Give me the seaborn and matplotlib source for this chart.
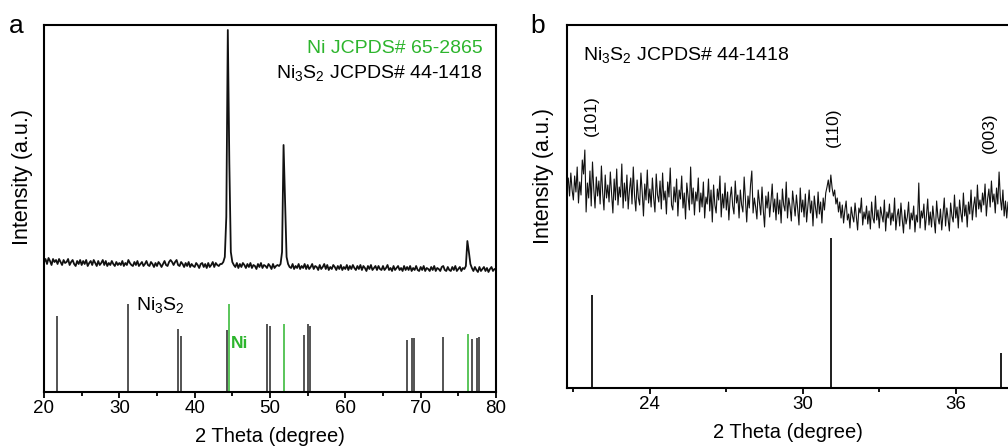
import numpy as np
import pandas as pd
import matplotlib
matplotlib.use("Agg")
import matplotlib.pyplot as plt
from matplotlib.ticker import MultipleLocator
import seaborn as sns

# ---------------- data ----------------
# Panel a: measured XRD scan, 20-80 deg, step 0.2 deg (intensity, a.u.)
scan_a_start, scan_a_stop = 20.0, 80.0
scan_a_int = [
    130, 133, 128, 134, 131, 127, 133, 130, 132, 128, 133, 130, 127, 132, 129, 130, 133, 127, 130, 132, 128, 126, 131, 128, 132,
    127, 131, 128, 132, 126, 129, 131, 127, 132, 129, 126, 131, 127, 129, 132, 127, 131, 126, 129, 127, 131, 128, 126, 130, 127,
    129, 127, 131, 126, 129, 127, 132, 129, 127, 126, 130, 127, 131, 126, 128, 130, 126, 128, 131, 127, 126, 130, 128, 125, 129,
    126, 130, 128, 125, 128, 131, 127, 126, 130, 132, 130, 127, 130, 132, 127, 126, 130, 128, 125, 129, 126, 130, 125, 128, 126,
    125, 129, 127, 124, 128, 129, 125, 128, 124, 129, 125, 127, 130, 125, 129, 127, 126, 128, 128, 130, 135, 175, 362, 230, 140,
    130, 127, 125, 129, 124, 128, 125, 129, 127, 124, 128, 125, 129, 124, 127, 126, 123, 128, 125, 129, 124, 127, 126, 124, 128,
    126, 123, 128, 124, 126, 127, 126, 128, 140, 247, 190, 135, 128, 125, 124, 128, 123, 126, 124, 128, 123, 126, 124, 128, 123,
    127, 123, 125, 128, 123, 126, 125, 122, 127, 123, 125, 128, 123, 127, 122, 125, 123, 127, 125, 122, 126, 123, 127, 122, 125,
    123, 127, 122, 126, 123, 127, 124, 122, 126, 123, 127, 122, 126, 124, 121, 126, 123, 127, 122, 124, 126, 122, 126, 123, 122,
    126, 122, 124, 127, 122, 124, 121, 126, 122, 124, 126, 122, 124, 121, 126, 122, 125, 122, 126, 121, 124, 122, 126, 122, 121,
    125, 122, 126, 121, 124, 123, 121, 125, 122, 126, 121, 124, 123, 121, 125, 126, 122, 121, 125, 122, 121, 125, 122, 126, 121,
    123, 125, 121, 124, 123, 126, 151, 140, 128, 124, 121, 125, 122, 120, 125, 121, 123, 125, 121, 124, 120, 123, 125, 121, 123,
    123,
]

# Panel a: reference patterns (relative intensity, %)
ni3s2_pos_a = [21.77, 31.15, 37.75, 38.24, 44.30, 49.66, 50.06, 54.57, 55.10, 55.28,
               68.25, 68.91, 69.18, 72.99, 76.88, 77.46, 77.80]
ni3s2_int_a = [86, 100, 72, 64, 71, 77, 75, 65, 77, 75, 59.5, 61, 61, 62, 60, 61, 62]
ni_pos = [44.52, 51.83, 76.27]
ni_int = [100, 77, 66]

# Panel b: measured scan, 20.80-38.10 deg, step 0.05 deg (intensity, a.u.)
scan_b_start, scan_b_stop = 20.8, 38.1
scan_b_int = [
    210, 192, 215, 198,
    188, 212, 196, 221, 185, 206, 193, 228, 214, 238,
    176, 205, 190, 217, 182, 226, 199, 180, 211, 192,
    207, 184, 222, 195, 178, 213, 190, 203, 186, 216,
    194, 175, 209, 188, 219, 183, 201, 191, 224, 180,
    205, 187, 213, 179, 198, 210, 184, 221, 192, 177,
    208, 190, 183, 215, 196, 172, 204, 188, 218, 185,
    199, 181, 210, 190, 176, 214, 193, 186, 207, 179,
    215, 188, 197, 174, 206, 191, 220, 183, 178, 201,
    186, 209, 172, 198, 189, 212, 180, 195, 169, 205,
    192, 178, 221, 184, 200, 173, 196, 187, 210, 176,
    195, 181, 206, 170, 191, 184, 209, 177, 198, 166,
    203, 183, 175, 199, 188, 212, 171, 194, 180, 205,
    178, 196, 168, 190, 201, 182, 174, 207, 185, 193,
    170, 198, 183, 176, 211, 188, 166, 192, 180, 203,
    217, 175, 190, 181, 169, 198, 185, 173, 201, 178,
    161, 192, 180, 196, 171, 186, 204, 176, 189, 168,
    195, 174, 188, 165, 199, 183, 177, 206, 170, 190,
    181, 167, 197, 185, 172, 193, 179, 163, 200, 176,
    188, 171, 194, 166, 182, 198, 175, 187, 162, 192,
    180, 170, 196, 174, 186, 165, 190, 178, 195, 201,
    208, 196, 213, 200, 192, 198, 184, 190, 176, 186,
    170, 183, 165, 178, 187, 168, 174, 160, 181, 172,
    166, 185, 171, 158, 180, 175, 190, 163, 176, 169,
    182, 164, 177, 159, 186, 170, 165, 192, 168, 178,
    160, 181, 173, 166, 188, 157, 176, 170, 184, 163,
    175, 167, 190, 158, 172, 179, 162, 185, 169, 155,
    178, 164, 171, 186, 159, 175, 168, 182, 156, 173,
    166, 205, 160, 177, 170, 184, 158, 172, 189, 163,
    176, 161, 182, 168, 155, 187, 171, 164, 179, 158,
    174, 190, 162, 180, 169, 157, 185, 172, 166, 193,
    170, 181, 160, 188, 175, 166, 195, 172, 183, 161,
    186, 174, 198, 168, 182, 191, 171, 203, 179, 188,
    176, 195, 183, 204, 172, 189, 199, 181, 207, 186,
    194, 175, 200, 184, 216, 190, 178, 198, 172, 187,
    170, 186, 178,
]
ni3s2_pos_b = [21.75, 31.10, 37.79]
ni3s2_int_b = [93, 150, 35]
hkl_b = ["(101)", "(110)", "(003)"]

ticks_a = [20, 30, 40, 50, 60, 70, 80]
ticks_b = [24, 30, 36]

# ---------------- style ----------------
sns.set_theme(style="ticks")
plt.rcParams["font.family"] = ["Liberation Sans", "DejaVu Sans"]
plt.rcParams["mathtext.default"] = "regular"
plt.rcParams["text.color"] = "black"
plt.rcParams["axes.labelcolor"] = "black"
plt.rcParams["xtick.color"] = "black"

GREEN = "#2db52d"
GREY = "#454545"
LINE = "#111111"

df_a = pd.DataFrame({"two_theta": np.linspace(scan_a_start, scan_a_stop, len(scan_a_int)),
                     "intensity": scan_a_int})
df_b = pd.DataFrame({"two_theta": np.linspace(scan_b_start, scan_b_stop, len(scan_b_int)),
                     "intensity": scan_b_int})

fig = plt.figure(figsize=(10.08, 4.46), dpi=100)
W, H = 1008, 446
axA = fig.add_axes([44 / W, 1 - 392 / H, 452 / W, 367 / H])
axB = fig.add_axes([567 / W, 1 - 388 / H, 441 / W, 363 / H])

stick_scale_a = 0.88

# ---- panel a ----
sns.lineplot(data=df_a, x="two_theta", y="intensity", ax=axA, color=LINE,
             lw=1.3, estimator=None, sort=False)
axA.vlines(ni3s2_pos_a, 0, np.array(ni3s2_int_a) * stick_scale_a, color=GREY, lw=1.3)
axA.vlines(ni_pos, 0, np.array(ni_int) * stick_scale_a, color=GREEN, lw=1.1)
axA.set_xlim(20, 80)
axA.set_ylim(0, 367)
axA.set_xticks(ticks_a)
axA.xaxis.set_minor_locator(MultipleLocator(5))
axA.set_yticks([])
axA.set_xlabel("2 Theta (degree)", fontsize=14.5, labelpad=7)
axA.set_ylabel("")
axA.text(-0.0465, 0.587, "Intensity (a.u.)", transform=axA.transAxes, rotation=90,
         ha="center", va="center", fontsize=15.5)
axA.text(78.2, 339, "Ni JCPDS# 65-2865", color=GREEN, ha="right", va="baseline", fontsize=14)
axA.text(78.2, 314, r"Ni$_3$S$_2$ JCPDS# 44-1418", color="black", ha="right",
         va="baseline", fontsize=14)
axA.text(32.2, 82, r"Ni$_3$S$_2$", color="black", ha="left", va="baseline", fontsize=14)
axA.text(44.83, 49, "Ni", color=GREEN, ha="left", va="center", fontsize=12.5,
         fontweight="bold")

# ---- panel b ----
sns.lineplot(data=df_b, x="two_theta", y="intensity", ax=axB, color=LINE,
             lw=0.8, estimator=None, sort=False)
axB.vlines(ni3s2_pos_b, 0, ni3s2_int_b, color="#1e1e1e", lw=1.4)
axB.set_xlim(20.75, 38.05)
axB.set_ylim(0, 363)
axB.set_xticks(ticks_b)
axB.xaxis.set_minor_locator(MultipleLocator(3))
axB.set_yticks([])
axB.set_xlabel("2 Theta (degree)", fontsize=14.5, labelpad=7)
axB.set_ylabel("")
axB.text(-0.054, 0.583, "Intensity (a.u.)", transform=axB.transAxes, rotation=90,
         ha="center", va="center", fontsize=15.5)
axB.text(21.37, 328, r"Ni$_3$S$_2$ JCPDS# 44-1418", ha="left", va="baseline", fontsize=14)
for lab, xx, yy in zip(hkl_b, [21.69, 31.2, 37.33], [272, 260.5, 255.5]):
    axB.text(xx, yy, lab, rotation=90, ha="center", va="center", fontsize=12.5)

for ax in (axA, axB):
    for sp in ax.spines.values():
        sp.set_linewidth(1.5)
        sp.set_color("black")
    ax.tick_params(axis="x", which="major", direction="out", length=4, width=1.3,
                   labelsize=13.5, pad=2, colors="black", bottom=True, top=False)
    ax.tick_params(axis="x", which="minor", direction="out", length=3, width=1.3,
                   bottom=True, top=False)
axB.spines["right"].set_visible(False)

fig.text(9 / W, 1 - 33 / H, "a", fontsize=19, ha="left", va="baseline")
fig.text(530 / W, 1 - 33 / H, "b", fontsize=19, ha="left", va="baseline")

fig.savefig("out.png", dpi=100)
